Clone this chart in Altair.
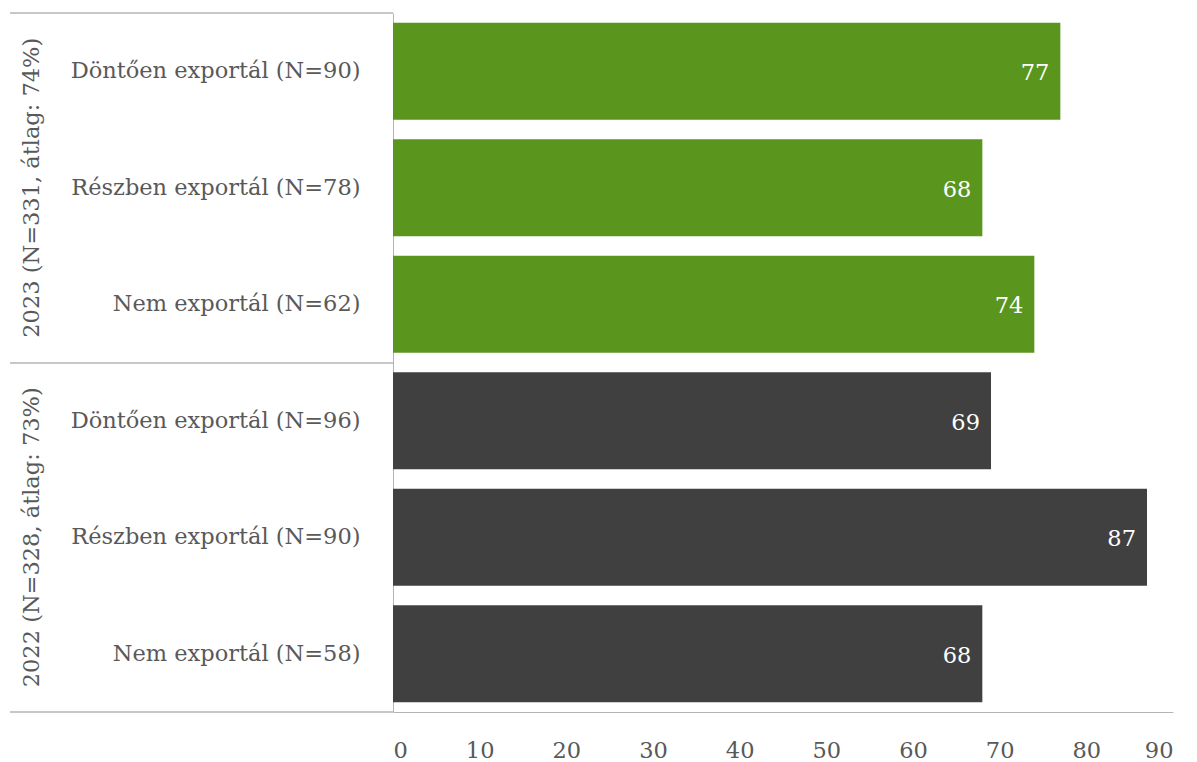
import altair as alt
import pandas as pd

groups = ["2023 (N=331, átlag: 74%)"] * 3 + ["2022 (N=328, átlag: 73%)"] * 3
categories = [
    "Döntően exportál (N=90)",
    "Részben exportál (N=78)",
    "Nem exportál (N=62)",
    "Döntően exportál (N=96)",
    "Részben exportál (N=90)",
    "Nem exportál (N=58)",
]
values = [77, 68, 74, 69, 87, 68]
group_names = ["2023 (N=331, átlag: 74%)", "2022 (N=328, átlag: 73%)"]
group_mid = ["Részben exportál (N=78)", "Részben exportál (N=90)"]
x_ticks = [0, 10, 20, 30, 40, 50, 60, 70, 80, 90]

FONT = "DejaVu Serif"
FS = 22.5
GREY_TXT = "#595959"
LINE = "#B4B4B4"

df = pd.DataFrame({"group": groups, "cat": categories, "value": values})
gdf = pd.DataFrame({"group": group_names, "mid": group_mid})

yscale = alt.Scale(domain=categories, paddingInner=0.167, paddingOuter=0.083)
xscale = alt.Scale(domain=[0, 90], nice=False)

y_enc = alt.Y(
    "cat:N",
    scale=yscale,
    sort=categories,
    title=None,
    axis=alt.Axis(
        ticks=False,
        domain=True,
        domainColor=LINE,
        labelPadding=33,
        labelFont=FONT,
        labelFontSize=FS,
        labelColor=GREY_TXT,
        labelLimit=400,
    ),
)

bars = alt.Chart(df).mark_bar().encode(
    x=alt.X(
        "value:Q",
        scale=xscale,
        title=None,
        axis=alt.Axis(
            values=x_ticks,
            grid=False,
            ticks=False,
            domainColor=LINE,
            labelPadding=27,
            labelFont=FONT,
            labelFontSize=FS,
            labelColor=GREY_TXT,
        ),
    ),
    y=y_enc,
    color=alt.Color(
        "group:N",
        scale=alt.Scale(domain=group_names, range=["#5A961E", "#404040"]),
        legend=None,
    ),
)

labels = alt.Chart(df).mark_text(
    align="right", baseline="middle", dx=-11, dy=2, color="white", font=FONT, fontSize=FS
).encode(
    x=alt.X("value:Q", scale=xscale),
    y=alt.Y("cat:N", scale=yscale, sort=categories),
    text=alt.Text("value:Q"),
)

group_text = alt.Chart(gdf).mark_text(
    angle=270, align="center", baseline="middle", color=GREY_TXT, font=FONT, fontSize=FS
).encode(
    x=alt.value(-361),
    y=alt.Y("mid:N", scale=yscale, sort=categories),
    text="group:N",
)

rule_df = pd.DataFrame({"k": ["top", "sep", "bottom"], "ypix": [0, 350, 699]})
rules = alt.Chart(rule_df).mark_rule(color=LINE, strokeWidth=1.5).encode(
    x=alt.value(-383),
    x2=alt.value(0),
    y=alt.Y("ypix:Q", scale=None),
)

chart = (
    alt.layer(bars, labels, group_text, rules)
    .properties(
        width=780,
        height=699,
        padding={"left": 1, "top": 4, "right": 5, "bottom": 5},
    )
    .configure_view(stroke=None)
)

chart.save("out.html", embed_options={"renderer": "svg", "actions": False})
